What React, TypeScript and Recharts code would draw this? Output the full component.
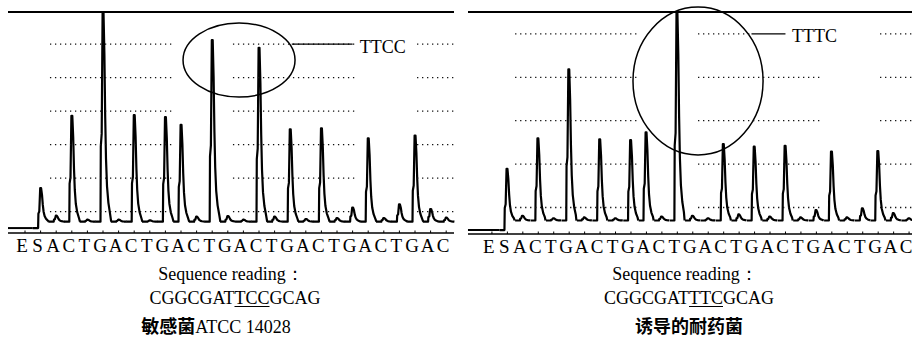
import React from 'react';
import {
  ComposedChart,
  Bar,
  XAxis,
  YAxis,
  ReferenceLine,
  ReferenceArea,
  ReferenceDot
} from 'recharts';

// dispensation order shown under both pyrograms
const dispensations = [
  'E', 'S', 'A', 'C', 'T', 'G', 'A', 'C', 'T', 'G', 'A', 'C', 'T', 'G',
  'A', 'C', 'T', 'G', 'A', 'C', 'T', 'G', 'A', 'C', 'T', 'G', 'A', 'C'
];

// peak heights above the signal floor (gridline step = 10), E gives no signal
const sensitivePeaks = [
  null, 10.0, 1.8, 31.6, 0.6, 62.6, 0.6, 31.8, 0.4, 31.2, 28.9, 1.5, 54.2, 1.7,
  0.6, 51.9, 1.5, 27.6, 0.8, 27.9, 1.1, 4.2, 24.9, 1.1, 5.2, 25.7, 3.8, 1.2
];
const resistantPeaks = [
  null, 11.9, 1.1, 18.9, 0.5, 34.8, 0.7, 18.7, 0.5, 18.5, 20.3, 0.9, 48.0, 1.1,
  0.5, 17.6, 1.4, 17.0, 0.9, 17.2, 0.7, 2.4, 15.9, 0.7, 2.8, 16.0, 1.7, 0.5
];

// trace level before the substrate is added
const sensitiveLead = -1.9;
const resistantLead = -2.2;

const sensitiveGridRows = [3, 13, 23, 33, 43, 53];
const resistantGridRows = [3, 13, 23, 33, 43];

const serif = "'Liberation Serif', 'Times New Roman', serif";
const cjk = "'Noto Sans CJK SC', sans-serif";

// peak outline: [offset from slot centre in px, fraction of peak height]
const RISE = [[-2.7, 0], [-2.4, 0.36], [-1.5, 0.42], [-0.6, 1], [0.3, 1]];
const FALL = [[1.2, 0.8], [2.0, 0.5], [2.8, 0.3], [3.8, 0.17], [5.2, 0.09], [6.8, 0.04]];

const PeakShape = (props: any) => {
  const { x, y, width, height, payload } = props;
  if (!payload || payload.range == null) return null;
  const [low, high] = payload.range;
  const bottom = y + height;
  const c = x + width / 2;
  const k = high - low > 0 ? height / (high - low) : 0;
  const floorY = bottom + low * k;
  const hRise = bottom - y;
  const hFall = floorY - y;
  let d = `M${x},${bottom}`;
  RISE.forEach(([dx, f]) => {
    d += ` L${c + dx},${bottom - f * hRise}`;
  });
  FALL.forEach(([dx, f]) => {
    d += ` L${c + dx},${floorY - f * hFall}`;
  });
  d += ` L${x + width},${floorY}`;
  return <path d={d} fill="none" stroke="#000" strokeWidth={2.2} strokeLinejoin="round" />;
};

const BaseTick = (props: any) => {
  const { x, y, payload } = props;
  return (
    <g>
      <line x1={x} x2={x} y1={y - 2.5} y2={y} stroke="#000" strokeWidth={1} />
      <text x={x - 3} y={y + 18.5} textAnchor="middle" fontFamily={serif} fontSize={19} fill="#000">
        {dispensations[payload.value]}
      </text>
    </g>
  );
};

const EllipseShape = (p: any) => (
  <ellipse
    cx={p.x + p.width / 2}
    cy={p.y + p.height / 2}
    rx={p.width / 2}
    ry={p.height / 2}
    fill="none"
    stroke="#000"
    strokeWidth={1.5}
  />
);

type PanelProps = {
  peaks: (number | null)[];
  lead: number;
  leadStart: number;
  gridRows: number[];
  gridSpans: number[][];
  labelRow: number;
  labelRowSpans: number[][];
  yDomain: number[];
  padLeft: number;
  width: number;
  marginRight: number;
  marginBottom: number;
  ellipse: { x1: number; x2: number; y1: number; y2: number };
  leader: number[];
  tag: string;
  tagAt: number[];
};

const Pyrogram: React.FC<PanelProps> = (p) => {
  const data = dispensations.map((base, i) => ({
    idx: i,
    base,
    range: p.peaks[i] == null ? null : [i === 1 ? p.lead : 0, p.peaks[i]]
  }));

  return (
    <ComposedChart
      width={p.width}
      height={262}
      data={data}
      margin={{ top: 12, left: 8, right: p.marginRight, bottom: p.marginBottom }}
      barCategoryGap={0}
      barGap={0}
    >
      <XAxis
        xAxisId="cat"
        dataKey="idx"
        type="category"
        interval={0}
        height={22}
        padding={{ left: p.padLeft, right: 0 }}
        axisLine={{ stroke: '#000', strokeWidth: 1.5 }}
        tickLine={false}
        tickSize={0}
        tickMargin={0}
        tick={<BaseTick />}
      />
      <XAxis
        xAxisId="num"
        dataKey="idx"
        type="number"
        domain={[-0.5, 27.5]}
        allowDataOverflow
        padding={{ left: p.padLeft, right: 0 }}
        hide
      />
      <YAxis type="number" domain={p.yDomain} allowDataOverflow hide />

      {p.gridRows.map((row) =>
        (row === p.labelRow ? p.labelRowSpans : p.gridSpans).map(([a, b], j) => (
          <ReferenceLine
            key={`g${row}-${j}`}
            xAxisId="num"
            segment={[{ x: a, y: row }, { x: b, y: row }]}
            ifOverflow="visible"
            stroke="#111"
            strokeWidth={1.3}
            strokeDasharray="1.3 3.7"
          />
        ))
      )}

      <ReferenceLine xAxisId="num" y={p.yDomain[1]} stroke="#000" strokeWidth={2} />

      <ReferenceLine
        xAxisId="num"
        segment={[{ x: p.leadStart, y: p.lead }, { x: 0.5, y: p.lead }]}
        ifOverflow="visible"
        stroke="#000"
        strokeWidth={2}
      />

      <Bar xAxisId="cat" dataKey="range" shape={PeakShape} isAnimationActive={false} />

      <ReferenceArea
        xAxisId="num"
        x1={p.ellipse.x1}
        x2={p.ellipse.x2}
        y1={p.ellipse.y1}
        y2={p.ellipse.y2}
        ifOverflow="visible"
        shape={EllipseShape}
      />
      <ReferenceLine
        xAxisId="num"
        segment={[{ x: p.leader[0], y: p.labelRow }, { x: p.leader[1], y: p.labelRow }]}
        ifOverflow="visible"
        stroke="#000"
        strokeWidth={1.3}
      />
      <ReferenceDot
        xAxisId="num"
        x={p.tagAt[0]}
        y={p.tagAt[1]}
        r={0}
        fill="none"
        stroke="none"
        ifOverflow="visible"
        label={{ value: p.tag, position: 'right', offset: 4, fontSize: 18, fontFamily: serif, fill: '#000' }}
      />
    </ComposedChart>
  );
};

const Caption: React.FC<{ center: number; top: number; children: React.ReactNode; font?: string }> = ({
  center,
  top,
  children,
  font
}) => (
  <div
    style={{
      position: 'absolute',
      left: center - 150,
      top,
      width: 300,
      textAlign: 'center',
      fontFamily: font || serif,
      fontSize: 18,
      lineHeight: '20px',
      color: '#000',
      whiteSpace: 'nowrap'
    }}
  >
    {children}
  </div>
);

export default function App() {
  return (
    <div
      style={{
        position: 'fixed',
        left: 0,
        top: 0,
        width: 912,
        height: 338,
        overflow: 'hidden',
        background: '#fff'
      }}
    >
      <div style={{ position: 'absolute', left: 0, top: 0 }}>
        <Pyrogram
          peaks={sensitivePeaks}
          lead={sensitiveLead}
          leadStart={-1.09}
          gridRows={sensitiveGridRows}
          gridSpans={[[1.6, 9.49], [13.33, 21.28], [25.13, 27.5]]}
          labelRow={53}
          labelRowSpans={[[1.6, 9.49], [13.33, 21.28], [25.13, 27.5]]}
          yDomain={[-3.37, 62.6]}
          padLeft={9.2}
          width={470}
          marginRight={16}
          marginBottom={7}
          ellipse={{ x1: 10.13, x2: 17.31, y1: 37.2, y2: 59.3 }}
          leader={[17.1, 21.0]}
          tag="TTCC"
          tagAt={[21.2, 52.4]}
        />
      </div>
      <div style={{ position: 'absolute', left: 460, top: 0 }}>
        <Pyrogram
          peaks={resistantPeaks}
          lead={resistantLead}
          leadStart={-1.55}
          gridRows={resistantGridRows}
          gridSpans={[[1.5, 9.39], [13.34, 21.24], [25.12, 27.5]]}
          labelRow={43}
          labelRowSpans={[[1.5, 9.39], [13.34, 16.8], [25.12, 27.5]]}
          yDomain={[-3.11, 48.04]}
          padLeft={16.2}
          width={470}
          marginRight={13.2}
          marginBottom={6}
          ellipse={{ x1: 9.13, x2: 17.55, y1: 15.1, y2: 49.2 }}
          leader={[16.8, 19.0]}
          tag="TTTC"
          tagAt={[19.16, 42.7]}
        />
      </div>

      <Caption center={231} top={264}>Sequence reading：</Caption>
      <Caption center={235} top={288}>
        CGGCGAT<span style={{ textDecoration: 'underline', textUnderlineOffset: 2 }}>TCC</span>GCAG
      </Caption>
      <Caption center={216} top={315}>
        <span style={{ fontFamily: cjk, fontWeight: 700 }}>敏感菌</span>
        <span style={{ fontFamily: serif }}>ATCC 14028</span>
      </Caption>

      <Caption center={685} top={264}>Sequence reading：</Caption>
      <Caption center={689} top={288}>
        CGGCGAT<span style={{ textDecoration: 'underline', textUnderlineOffset: 2 }}>TTC</span>GCAG
      </Caption>
      <Caption center={689} top={315} font={cjk}>
        <span style={{ fontWeight: 700 }}>诱导的耐药菌</span>
      </Caption>
    </div>
  );
}
